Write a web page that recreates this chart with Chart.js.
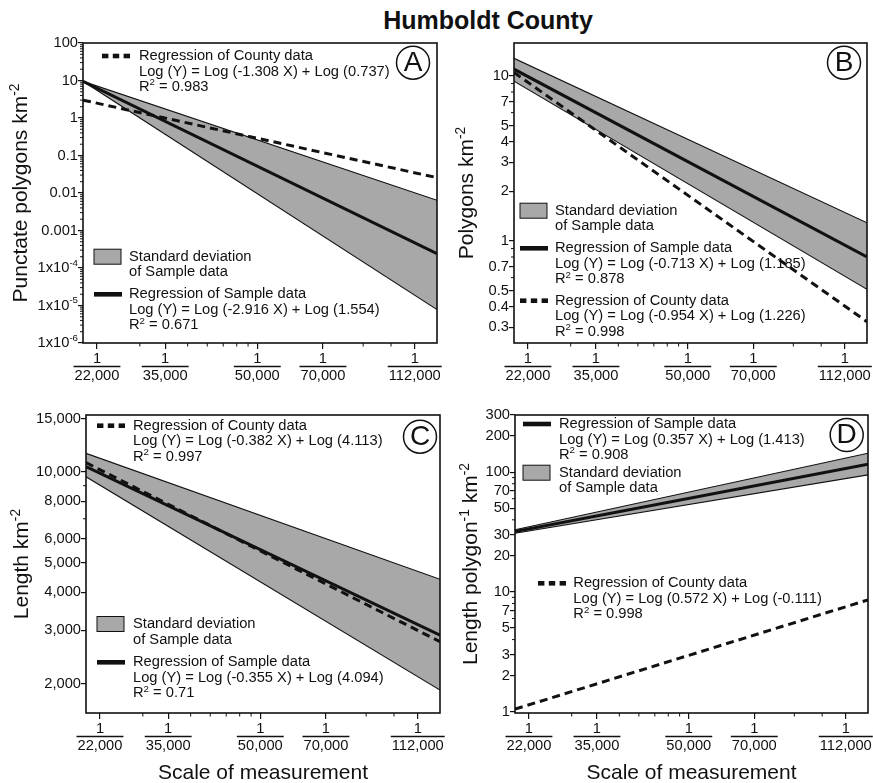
<!DOCTYPE html>
<html>
<head>
<meta charset="utf-8">
<title>Humboldt County</title>
<script src="https://cdn.jsdelivr.net/npm/chart.js@4.4.1/dist/chart.umd.min.js"></script>
<style>
  body { margin: 0; background: #fff; }
  #page { position: relative; width: 873px; height: 783px; overflow: hidden; background: #fff; }
  #title { position: absolute; left: 338px; top: 8px; width: 300px; text-align: center;
           font: bold 25px/25px "Liberation Sans", Arial, sans-serif; color: #111; }
  canvas { position: absolute; }
</style>
</head>
<body>
<div id="page">
  <div id="title">Humboldt County</div>
  <canvas id="panelA" width="446" height="370" style="left:0;top:30px"></canvas>
  <canvas id="panelB" width="427" height="370" style="left:446px;top:30px"></canvas>
  <canvas id="panelC" width="446" height="383" style="left:0;top:400px"></canvas>
  <canvas id="panelD" width="427" height="383" style="left:446px;top:400px"></canvas>
</div>
<script>
const FONT = '"Liberation Sans", Arial, Helvetica, sans-serif';
const INK = '#111';
const BAND = '#a8a8a8';
Chart.defaults.font.family = FONT;
Chart.defaults.color = INK;

// x axis: scale of measurement (map denominator, log axis)
const xEdges = [20480, 125540];                        // left / right edge of each plot
const xTickAt = [22000, 31200, 50000, 70000, 112000];  // label positions
const xTickLabels = ['22,000', '35,000', '50,000', '70,000', '112,000'];
const xMinorAt = [27400, 35000, 38700, 42000, 45000, 47700, 86000, 99200];

// A - punctate polygons km-2 (values at left / right edge)
const aRange = [1e-6, 100];
const aTicks = [100, 10, 1, 0.1, 0.01, 0.001, 1e-4, 1e-5, 1e-6];
const aTickLabels = ['100', '10', '1', '0.1', '0.01', '0.001', '1x10^-4', '1x10^-5', '1x10^-6'];
const aCounty = [3.0, 0.0257];
const aSample = [9.5, 0.00024];
const aSdHigh = [9.5, 0.0064];
const aSdLow = [9.5, 0.0000078];

// B - polygons km-2
const bRange = [0.241, 15.85];
const bTicks = [10, 7, 5, 4, 3, 2, 1, 0.7, 0.5, 0.4, 0.3];
const bTickLabels = ['10', '7', '5', '4', '3', '2', '1', '0.7', '0.5', '0.4', '0.3'];
const bCounty = [10.5, 0.324];
const bSample = [11.0, 0.80];
const bSdHigh = [12.8, 1.29];
const bSdLow = [9.3, 0.51];

// C - length km-2
const cRange = [1600, 15400];
const cTicks = [15000, 10000, 8000, 6000, 5000, 4000, 3000, 2000];
const cTickLabels = ['15,000', '10,000', '8,000', '6,000', '5,000', '4,000', '3,000', '2,000'];
const cCounty = [10720, 2750];
const cSample = [10400, 2893];
const cSdHigh = [11510, 4420];
const cSdLow = [9630, 1905];

// D - length polygon-1 km-2
const dRange = [0.975, 300];
const dTicks = [300, 200, 100, 70, 50, 30, 20, 10, 7, 5, 3, 2, 1];
const dTickLabels = ['300', '200', '100', '70', '50', '30', '20', '10', '7', '5', '3', '2', '1'];
const dCounty = [1.05, 8.58];
const dSample = [31.9, 116.7];
const dSdHigh = [33.0, 144];
const dSdLow = [30.9, 94.9];

// text with superscript parts ('^' prefix)
function rich(ctx, x, y, parts, size, align, rise) {
  const segs = parts.map(s => s[0] === '^' ? { t: s.slice(1), up: true } : { t: s, up: false });
  let w = 0;
  segs.forEach(s => {
    ctx.font = (s.up ? size * 0.66 : size) + 'px ' + FONT;
    s.w = ctx.measureText(s.t).width;
    w += s.w;
  });
  let cx = x;
  if (align === 'center') cx = x - w / 2;
  if (align === 'right') cx = x - w;
  ctx.textAlign = 'left';
  segs.forEach(s => {
    ctx.font = (s.up ? size * 0.66 : size) + 'px ' + FONT;
    ctx.fillText(s.t, cx, s.up ? y - size * rise : y);
    cx += s.w;
  });
}

function drawBlock(ctx, a, b) {
  const sx = a.left + b.x, sy = a.top + b.y;
  if (b.sym === 'band') {
    ctx.fillStyle = BAND;
    ctx.fillRect(sx, sy - 7.5, 27, 15);
    ctx.lineWidth = 1;
    ctx.strokeRect(sx, sy - 7.5, 27, 15);
    ctx.fillStyle = INK;
  } else if (b.sym === 'solid') {
    ctx.fillRect(sx, sy - 2.3, 28, 4.6);
  } else {
    for (let k = 0; k < 3; k++) ctx.fillRect(sx + k * 10.8, sy - 2.3, 6.4, 4.6);
  }
  ctx.textBaseline = 'middle';
  b.lines.forEach((ln, k) => rich(ctx, a.left + b.tx, sy + k * 15.5, ln, 14.7, 'left', 0.3));
}

// frame, minor ticks, fraction bars, legends, titles
function decor(p) {
  return {
    id: 'decor',
    afterDraw(chart) {
      const { ctx, chartArea: a, scales: { x, y } } = chart;
      ctx.save();
      ctx.strokeStyle = INK;
      ctx.fillStyle = INK;

      // minor ticks
      ctx.lineWidth = 1;
      ctx.beginPath();
      xMinorAt.forEach(v => {
        const px = x.getPixelForValue(v);
        ctx.moveTo(px, a.bottom);
        ctx.lineTo(px, a.bottom + 3.5);
      });
      const lo = Math.floor(Math.log10(p.range[0])), hi = Math.ceil(Math.log10(p.range[1]));
      for (let e = lo; e <= hi; e++) {
        for (let m = 1; m <= 9; m++) {
          const v = m * Math.pow(10, e);
          if (v < p.range[0] || v > p.range[1]) continue;
          if (p.ticks.some(t => Math.abs(t - v) / v < 1e-6)) continue;
          const py = y.getPixelForValue(v);
          ctx.moveTo(a.left, py);
          ctx.lineTo(a.left - 3, py);
        }
      }
      ctx.stroke();

      // tick labels with an exponent (1x10-4 ...)
      ctx.textBaseline = 'middle';
      p.tickLabels.forEach((l, i) => {
        if (l.indexOf('^') < 0) return;
        const parts = l.split('^');
        rich(ctx, a.left - 5, y.getPixelForValue(p.ticks[i]), [parts[0], '^' + parts[1]], 14.7, 'right', 0.33);
      });

      // bar of the 1/N fractions
      ctx.font = '14.7px ' + FONT;
      ctx.lineWidth = 1.3;
      ctx.beginPath();
      xTickAt.forEach((v, i) => {
        const px = x.getPixelForValue(v);
        const w = ctx.measureText(xTickLabels[i]).width + 2;
        ctx.moveTo(px - w / 2, a.bottom + 23.5);
        ctx.lineTo(px + w / 2, a.bottom + 23.5);
      });
      ctx.stroke();

      // frame
      ctx.lineWidth = 1.6;
      ctx.strokeRect(a.left, a.top, a.width, a.height);

      // panel letter
      const lx = a.right - p.letterAt[0], ly = a.top + p.letterAt[1];
      ctx.lineWidth = 1.5;
      ctx.beginPath();
      ctx.arc(lx, ly, 16.5, 0, Math.PI * 2);
      ctx.stroke();
      ctx.font = '28px ' + FONT;
      ctx.textAlign = 'center';
      ctx.textBaseline = 'middle';
      ctx.fillText(p.letter, lx, ly + 0.5);

      p.legend.forEach(b => drawBlock(ctx, a, b));

      // axis titles
      ctx.save();
      ctx.translate(p.yTitleX, (a.top + a.bottom) / 2);
      ctx.rotate(-Math.PI / 2);
      ctx.textBaseline = 'alphabetic';
      rich(ctx, 0, 0, p.yTitle, 21, 'center', 0.4);
      ctx.restore();
      if (p.xTitle) {
        ctx.textBaseline = 'alphabetic';
        ctx.textAlign = 'center';
        ctx.font = '21px ' + FONT;
        ctx.fillText('Scale of measurement', (a.left + a.right) / 2, a.bottom + 66);
      }
      ctx.restore();
    }
  };
}

function makePanel(id, p) {
  const canvas = document.getElementById(id);
  const W = canvas.width, H = canvas.height;
  const pts = arr => xEdges.map((x, i) => ({ x: x, y: arr[i] }));
  new Chart(canvas, {
    type: 'line',
    data: {
      datasets: [
        { data: pts(p.sdHigh), borderColor: INK, borderWidth: 1.1, fill: '+1', backgroundColor: BAND, order: 4 },
        { data: pts(p.sdLow), borderColor: INK, borderWidth: 1.1, fill: false, order: 3 },
        { data: pts(p.sample), borderColor: INK, borderWidth: 3, fill: false, order: 2 },
        { data: pts(p.county), borderColor: INK, borderWidth: 3, borderDash: [8, 5], fill: false, order: 1 }
      ]
    },
    options: {
      responsive: false,
      animation: false,
      events: [],
      elements: { point: { radius: 0 }, line: { tension: 0 } },
      layout: { autoPadding: false, padding: { left: 0, top: p.box[1], right: W - p.box[2], bottom: 0 } },
      plugins: { legend: { display: false }, tooltip: { enabled: false } },
      scales: {
        x: {
          type: 'logarithmic',
          min: xEdges[0],
          max: xEdges[1],
          afterBuildTicks: s => { s.ticks = xTickAt.map(v => ({ value: v })); },
          afterFit: s => { s.height = H - p.box[3]; s.paddingLeft = 0; s.paddingRight = 0; },
          ticks: {
            autoSkip: false, maxRotation: 0, minRotation: 0, padding: 1.2,
            font: { size: 14.7, lineHeight: 1.19 },
            callback: (v, i) => ['1', xTickLabels[i]]
          },
          grid: { drawOnChartArea: false, tickLength: 6, color: INK, lineWidth: 1.2 },
          border: { display: false }
        },
        y: {
          type: 'logarithmic',
          min: p.range[0],
          max: p.range[1],
          afterBuildTicks: s => { s.ticks = p.ticks.map(v => ({ value: v })); },
          afterFit: s => { s.width = p.box[0]; s.paddingTop = 0; s.paddingBottom = 0; },
          ticks: {
            autoSkip: false, padding: 0, font: { size: 14.7 },
            // exponent labels are drawn by the decor plugin
            callback: (v, i) => p.tickLabels[i].indexOf('^') < 0 ? p.tickLabels[i] : ''
          },
          grid: { drawOnChartArea: false, tickLength: 5, color: INK, lineWidth: 1.2 },
          border: { display: false }
        }
      }
    },
    plugins: [decor(p)]
  });
}

makePanel('panelA', {
  box: [83, 13, 437, 313],
  range: aRange, ticks: aTicks, tickLabels: aTickLabels,
  county: aCounty, sample: aSample, sdHigh: aSdHigh, sdLow: aSdLow,
  letter: 'A', letterAt: [24, 19.7],
  yTitle: ['Punctate polygons km', '^-2'], yTitleX: 27,
  legend: [
    { sym: 'dash', x: 19, y: 13, tx: 56, lines: [['Regression of County data'], ['Log (Y) = Log (-1.308 X) + Log (0.737)'], ['R', '^2', ' = 0.983']] },
    { sym: 'band', x: 11, y: 213.7, tx: 46, lines: [['Standard deviation'], ['of Sample data']] },
    { sym: 'solid', x: 11, y: 251.3, tx: 46, lines: [['Regression of Sample data'], ['Log (Y) = Log (-2.916 X) + Log (1.554)'], ['R', '^2', ' = 0.671']] }
  ]
});

makePanel('panelB', {
  box: [68, 13, 421, 313],
  range: bRange, ticks: bTicks, tickLabels: bTickLabels,
  county: bCounty, sample: bSample, sdHigh: bSdHigh, sdLow: bSdLow,
  letter: 'B', letterAt: [23, 19.7],
  yTitle: ['Polygons km', '^-2'], yTitleX: 27,
  legend: [
    { sym: 'band', x: 6, y: 167.7, tx: 41, lines: [['Standard deviation'], ['of Sample data']] },
    { sym: 'solid', x: 6, y: 205.3, tx: 41, lines: [['Regression of Sample data'], ['Log (Y) = Log (-0.713 X) + Log (1.185)'], ['R', '^2', ' = 0.878']] },
    { sym: 'dash', x: 6, y: 257.7, tx: 41, lines: [['Regression of County data'], ['Log (Y) = Log (-0.954 X) + Log (1.226)'], ['R', '^2', ' = 0.998']] }
  ]
});

makePanel('panelC', {
  box: [86, 15, 440, 313],
  range: cRange, ticks: cTicks, tickLabels: cTickLabels,
  county: cCounty, sample: cSample, sdHigh: cSdHigh, sdLow: cSdLow,
  letter: 'C', letterAt: [20, 21.7],
  yTitle: ['Length km', '^-2'], yTitleX: 28, xTitle: true,
  legend: [
    { sym: 'dash', x: 11, y: 10.7, tx: 47, lines: [['Regression of County data'], ['Log (Y) = Log (-0.382 X) + Log (4.113)'], ['R', '^2', ' = 0.997']] },
    { sym: 'band', x: 11, y: 209, tx: 47, lines: [['Standard deviation'], ['of Sample data']] },
    { sym: 'solid', x: 11, y: 247.3, tx: 47, lines: [['Regression of Sample data'], ['Log (Y) = Log (-0.355 X) + Log (4.094)'], ['R', '^2', ' = 0.71']] }
  ]
});

makePanel('panelD', {
  box: [69, 15, 422, 313],
  range: dRange, ticks: dTicks, tickLabels: dTickLabels,
  county: dCounty, sample: dSample, sdHigh: dSdHigh, sdLow: dSdLow,
  letter: 'D', letterAt: [21.3, 20],
  yTitle: ['Length polygon', '^-1', ' km', '^-2'], yTitleX: 31, xTitle: true,
  legend: [
    { sym: 'solid', x: 8, y: 9, tx: 44, lines: [['Regression of Sample data'], ['Log (Y) = Log (0.357 X) + Log (1.413)'], ['R', '^2', ' = 0.908']] },
    { sym: 'band', x: 8, y: 57.7, tx: 44, lines: [['Standard deviation'], ['of Sample data']] },
    { sym: 'dash', x: 23, y: 168.3, tx: 58.3, lines: [['Regression of County data'], ['Log (Y) = Log (0.572 X) + Log (-0.111)'], ['R', '^2', ' = 0.998']] }
  ]
});
</script>
</body>
</html>
